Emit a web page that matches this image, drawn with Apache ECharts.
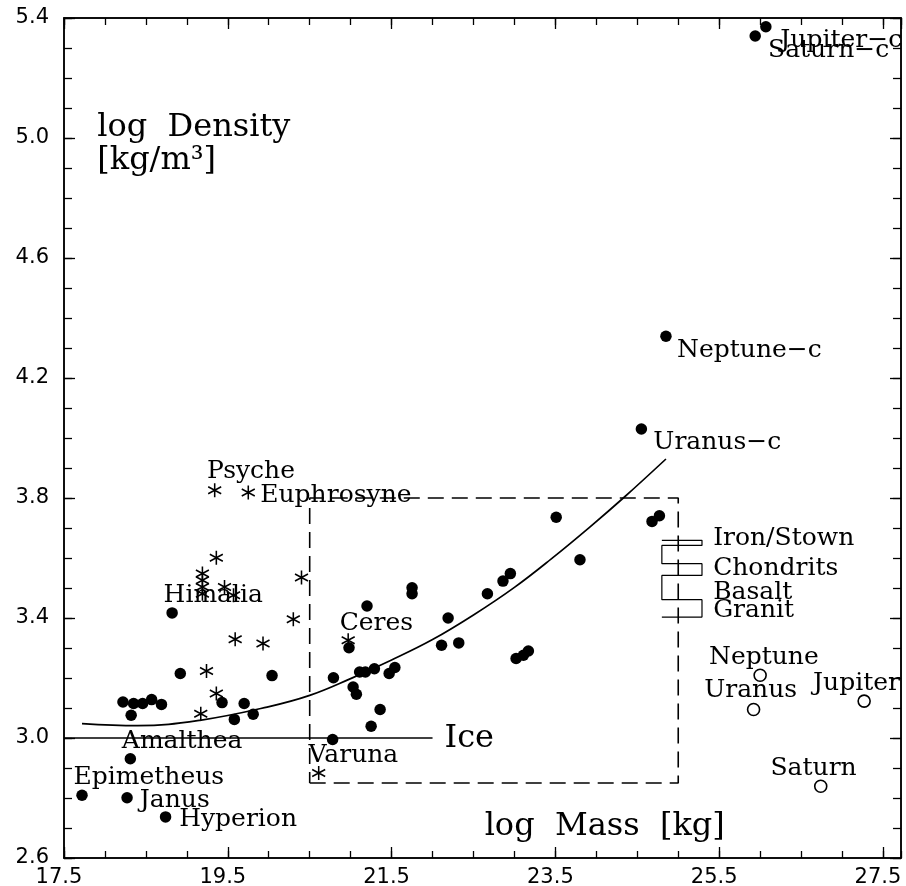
<!DOCTYPE html>
<html>
<head>
<meta charset="utf-8">
<title>log Density vs log Mass</title>
<script src="https://cdn.jsdelivr.net/npm/echarts@6/dist/echarts.min.js"></script>
<style>
  html, body { margin: 0; padding: 0; background: #fff; }
  #chart { width: 906px; height: 886px; }
</style>
</head>
<body>
<div id="chart"></div>
<script>
// filled dots: moons, small bodies and planet cores [log mass, log density]
const bodies = [
  [17.72, 2.809], [18.27, 2.801], [18.31, 2.931], [18.74, 2.737],
  [18.22, 3.12], [18.32, 3.076], [18.35, 3.115], [18.46, 3.115], [18.57, 3.128], [18.69, 3.112],
  [18.82, 3.417], [18.92, 3.215], [19.43, 3.118], [19.58, 3.062], [19.70, 3.115], [19.81, 3.079],
  [20.04, 3.208], [20.79, 3.201], [20.78, 2.995], [20.98, 3.301], [21.03, 3.17], [21.07, 3.146],
  [21.11, 3.22], [21.18, 3.22], [21.29, 3.231], [21.20, 3.44], [21.25, 3.039], [21.36, 3.095],
  [21.47, 3.215], [21.54, 3.235], [21.75, 3.501], [21.75, 3.481], [22.19, 3.40], [22.11, 3.309],
  [22.32, 3.317], [22.67, 3.481], [22.86, 3.523], [22.95, 3.548], [23.02, 3.265], [23.11, 3.276],
  [23.17, 3.29], [23.51, 3.736], [23.80, 3.594], [24.68, 3.722], [24.77, 3.741],
  [24.55, 4.03], [24.85, 4.339], [26.07, 5.371], [25.94, 5.34]
];

// asterisks: asteroids and TNOs
const asteroids = [
  [19.34, 3.826], [19.75, 3.818], [19.36, 3.601], [19.19, 3.548], [19.19, 3.526], [19.19, 3.503],
  [19.19, 3.481], [19.46, 3.503], [19.57, 3.476], [20.40, 3.535], [20.30, 3.396], [19.59, 3.329],
  [19.93, 3.315], [20.97, 3.326], [19.24, 3.223], [19.36, 3.148], [19.17, 3.081], [20.61, 2.883]
];

// open circles: giant planets
const planets = [[26.0, 3.209], [25.92, 3.095], [27.27, 3.123], [26.74, 2.839]];

// fitted trend curve
const trendCurve = [
  [17.72, 3.048], [18.4, 3.041], [19.16, 3.059], [19.98, 3.103], [20.5, 3.142], [21.0, 3.198],
  [21.5, 3.26], [22.0, 3.328], [22.5, 3.41], [23.0, 3.502], [23.45, 3.597], [23.92, 3.703],
  [24.35, 3.805], [24.85, 3.93]
];

const iceLine = [[17.5, 3.0], [22.0, 3.0]];
const dashedBox = [[20.5, 2.85], [25.0, 2.85], [25.0, 3.8], [20.5, 3.8], [20.5, 2.85]];

// rock density ranges (serpentine outline)
const rockX = [24.80, 25.29];
const rockLevels = [3.659, 3.642, 3.581, 3.542, 3.461, 3.403];

// text notes: [text, log mass, log density] (left edge, middle)
const notes = [
  ['Psyche', 19.24, 3.887], ['Euphrosyne', 19.89, 3.809], ['Himalia', 18.71, 3.476],
  ['Ceres', 20.86, 3.381], ['Amalthea', 18.20, 2.989], ['Varuna', 20.48, 2.942],
  ['Epimetheus', 17.61, 2.868], ['Janus', 18.42, 2.792], ['Hyperion', 18.90, 2.728],
  ['Uranus\u2212c', 24.69, 3.986], ['Neptune\u2212c', 24.98, 4.293],
  ['Jupiter\u2212c', 26.24, 5.326], ['Saturn\u2212c', 26.09, 5.292],
  ['Neptune', 25.37, 3.27], ['Uranus', 25.31, 3.159], ['Jupiter', 26.64, 3.181], ['Saturn', 26.12, 2.898],
  ['Iron/Stown', 25.42, 3.666], ['Chondrits', 25.42, 3.566], ['Basalt', 25.42, 3.486], ['Granit', 25.42, 3.426]
];
const titles = [
  ['log  Density', 17.90, 5.036], ['[kg/m\u00b3]', 17.90, 4.926],
  ['log  Mass  [kg]', 22.63, 2.703], ['Ice', 22.14, 2.998]
];

const xMin = 17.5, xMax = 27.72, yMin = 2.6, yMax = 5.4;

function rockPath() {
  const pts = [];
  rockLevels.forEach((y, i) => {
    if (i % 2 === 0) pts.push([rockX[0], y], [rockX[1], y]);
    else pts.push([rockX[1], y], [rockX[0], y]);
  });
  return pts;
}

function xAxisCfg(position, interval, tickLen, labels) {
  return {
    type: 'value', position, min: xMin, max: xMax, interval,
    splitLine: { show: false },
    axisLine: { show: true, onZero: false, lineStyle: { color: '#000', width: 1.5 } },
    axisTick: { show: true, inside: true, length: tickLen, lineStyle: { color: '#000', width: 1.3 } },
    axisLabel: labels ? {
      show: true, margin: 9, color: '#000', fontFamily: 'DejaVu Sans', fontSize: 21,
      padding: [0, 10, 0, 0], showMaxLabel: false,
      formatter: (v) => (v > 27.6 ? '' : v.toFixed(1))
    } : { show: false }
  };
}

function yAxisCfg(position, interval, tickLen, labels) {
  return {
    type: 'value', position, min: yMin, max: yMax, interval,
    splitLine: { show: false },
    axisLine: { show: true, onZero: false, lineStyle: { color: '#000', width: 1.5 } },
    axisTick: { show: true, inside: true, length: tickLen, lineStyle: { color: '#000', width: 1.3 } },
    axisLabel: labels ? {
      show: true, margin: 15, color: '#000', fontFamily: 'DejaVu Sans', fontSize: 21,
      formatter: (v) => v.toFixed(1)
    } : { show: false }
  };
}

function textSeries(list, size) {
  return {
    type: 'scatter', silent: true, symbolSize: 1, clip: false,
    itemStyle: { color: 'transparent', opacity: 1 },
    label: {
      show: true, position: 'right', distance: 0, opacity: 1,
      formatter: (p) => p.data[2],
      fontFamily: 'DejaVu Serif', fontSize: size, color: '#000'
    },
    data: list.map((n) => [n[1], n[2], n[0]])
  };
}

const chart = echarts.init(document.getElementById('chart'));
chart.setOption({
  animation: false,
  backgroundColor: '#fff',
  grid: { left: 64, top: 18, right: 5, bottom: 28, outerBoundsMode: 'none', containLabel: false },
  xAxis: [
    xAxisCfg('bottom', 2, 11, true),
    xAxisCfg('bottom', 0.5, 7, false),
    xAxisCfg('top', 2, 11, false),
    xAxisCfg('top', 0.5, 7, false)
  ],
  yAxis: [
    yAxisCfg('left', 0.4, 11, true),
    yAxisCfg('left', 0.1, 8, false),
    yAxisCfg('right', 0.4, 11, false),
    yAxisCfg('right', 0.1, 8, false)
  ],
  series: [
    {
      type: 'line', data: trendCurve, smooth: 0.4, showSymbol: false, silent: true,
      lineStyle: { color: '#000', width: 1.7 }
    },
    {
      type: 'line', data: iceLine, showSymbol: false, silent: true,
      lineStyle: { color: '#000', width: 1.4 }
    },
    {
      type: 'line', data: dashedBox, showSymbol: false, silent: true,
      lineStyle: { color: '#000', width: 1.6, type: [16, 8] }
    },
    {
      type: 'line', data: rockPath(), showSymbol: false, silent: true,
      lineStyle: { color: '#000', width: 1.2 }
    },
    {
      type: 'scatter', data: bodies, symbol: 'circle', symbolSize: 11.5,
      itemStyle: { color: '#000', opacity: 1 }
    },
    {
      type: 'scatter', data: asteroids,
      symbol: 'path://M6,0 L6,12 M0.8,3 L11.2,9 M0.8,9 L11.2,3',
      symbolSize: [13, 14],
      itemStyle: { color: 'none', borderColor: '#000', borderWidth: 1.6, opacity: 1 }
    },
    {
      type: 'scatter', data: planets, symbol: 'circle', symbolSize: 12,
      itemStyle: { color: '#fff', borderColor: '#000', borderWidth: 1.6, opacity: 1 }
    },
    textSeries(notes, 25),
    textSeries(titles, 32)
  ]
});
</script>
</body>
</html>
